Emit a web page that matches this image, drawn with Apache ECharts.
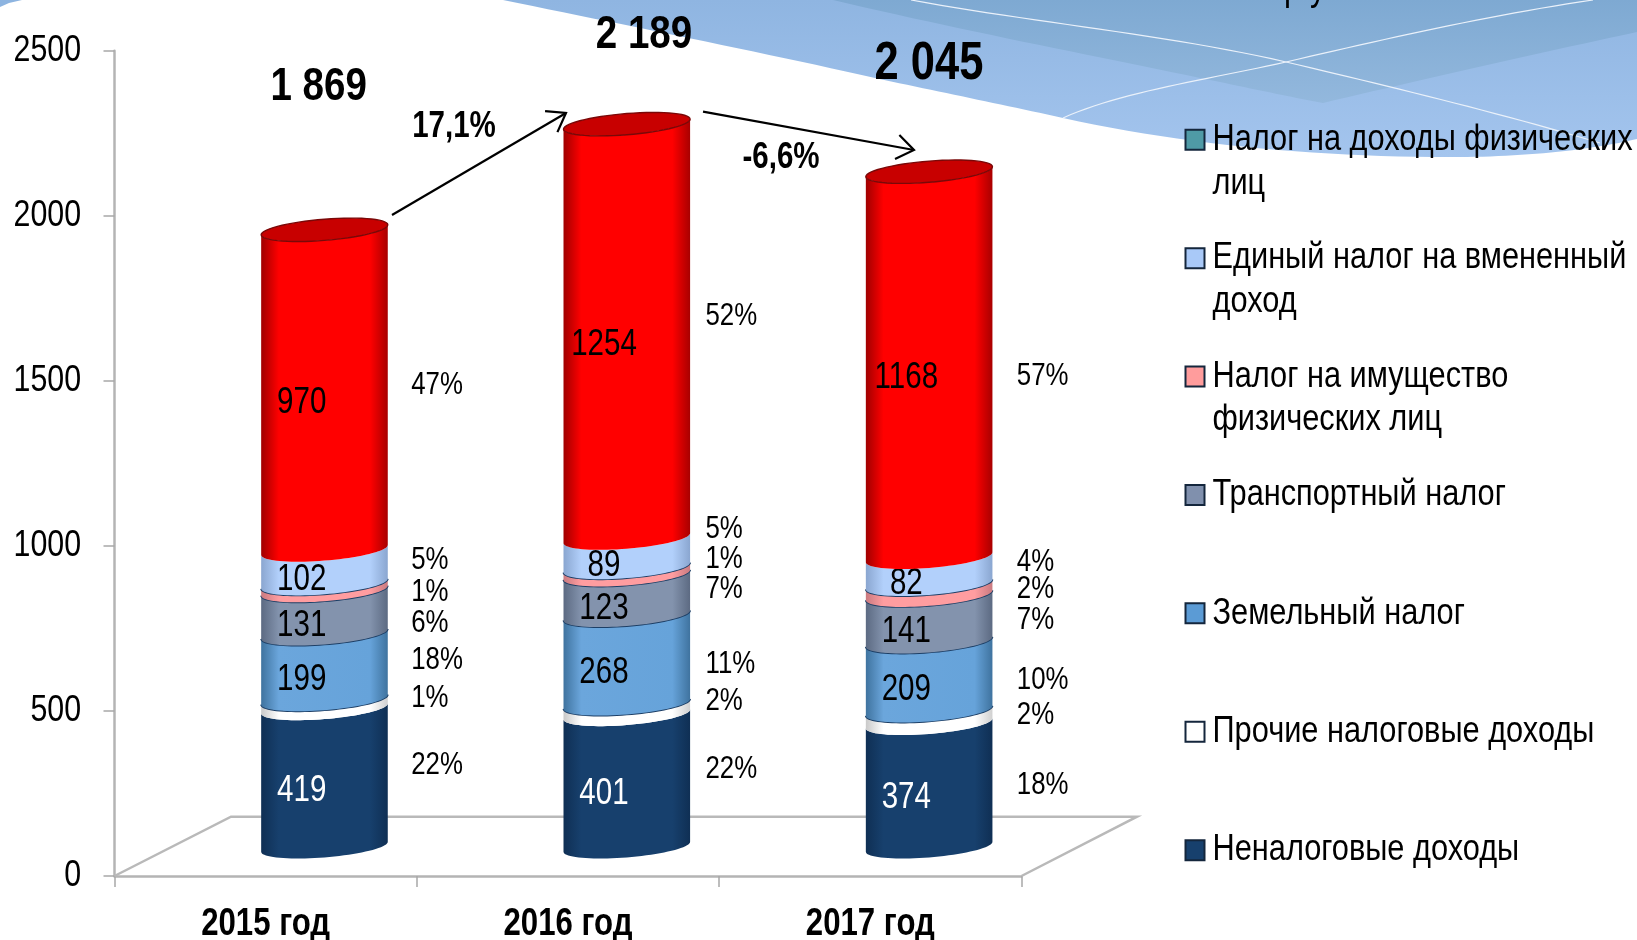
<!DOCTYPE html>
<html><head><meta charset="utf-8">
<style>html,body{margin:0;padding:0;background:#fff}#c{width:1637px;height:940px}</style>
<script src="https://cdn.jsdelivr.net/npm/echarts@6/dist/echarts.min.js"></script>
</head><body><div id="c"></div>
<script>
const categories = ['2015 год','2016 год','2017 год'];
const seriesNames = ['Неналоговые доходы','Прочие налоговые доходы','Земельный налог','Транспортный налог','Налог на имущество физических лиц','Единый налог на вмененный доход','Налог на доходы физических лиц'];
const nonTax    = [419,401,374];
const otherTax  = [27,32,38];
const landTax   = [199,268,209];
const transport = [131,123,141];
const property  = [21,22,33];
const utii      = [102,89,82];
const pit       = [970,1254,1168];
const pctNonTax = [22,22,18];
const pctOther  = [1,2,2];
const pctLand   = [18,11,10];
const pctTrans  = [6,7,7];
const pctProp   = [1,1,2];
const pctUtii   = [5,5,4];
const pctPit    = [47,52,57];
const totals = ['1 869','2 189','2 045'];
const changes = ['17,1%','-6,6%'];

const values = [nonTax,otherTax,landTax,transport,property,utii,pit];
const pcts = [pctNonTax,pctOther,pctLand,pctTrans,pctProp,pctUtii,pctPit];
const showValue = [true,false,true,true,false,true,true];

// No narrow face is installed: draw Liberation Sans condensed to Arial Narrow proportions.
const NARROW = 0.82;
const baseFillText = CanvasRenderingContext2D.prototype.fillText;
CanvasRenderingContext2D.prototype.fillText = function(t,x,y){
  this.save(); this.translate(x,y); this.scale(NARROW,1);
  baseFillText.call(this,t,0,0);
  this.restore();
};

// styling / layout
const FONT = '"Liberation Sans",sans-serif';
const legendColors = ['#17406d','#ffffff','#5b9bd5','#8090ad','#ff9c9c','#a9c9f8','#4f9aa6'];
const shades = [
  ['#0f2f54','#17406d','#17406d','#0f2f54'],
  ['#c9c9c9','#ffffff','#ffffff','#d0d0d0'],
  ['#3f739f','#6ba6dc','#66a3da','#3f739f'],
  ['#5c6a82','#8393ad','#8393ad','#5c6a82'],
  ['#c97a80','#ff9da0','#ff9da0','#c97a80'],
  ['#8aa6d0','#b2d0fb','#b2d0fb','#8aa6d0'],
  ['#a00000','#ff0000','#ff0000','#a80000']
];
const edgeOnTop = [false,true,true,true,true,false,false];
const DEPTH_X = 58.8, DEPTH_Y = 29.2, RX = 63.3, RY = 10.6, TILT = 5;
const pctNudge = [
  [-12,-11,0],[-6,-8,-2],[-6,5,4],[11,-6,2],[5,-12,0],[-7,-24,-9],[-4.5,-15,12]
];
const pctX = [86.7,78.7,87.7];
const totalPos = [[318.6,87.5],[644,35],[929,64]];
const totalSize = [47,47,53];

function arc(cx,cy,from,to,n){
  const pts=[];
  for(let i=0;i<=n;i++){
    const t=from+(to-from)*i/n;
    pts.push([cx+RX*Math.cos(t), cy+RY*Math.sin(t)-TILT*Math.cos(t)]);
  }
  return pts;
}
function makeRender(si){
  return function(params,api){
    const cat=api.value(0), lo=api.value(1), hi=api.value(2);
    const pLo=api.coord([cat,lo]), pHi=api.coord([cat,hi]);
    const cx=pLo[0]+DEPTH_X, yLo=pLo[1]-DEPTH_Y, yHi=pHi[1]-DEPTH_Y;
    const front=(y)=>arc(cx,y,Math.PI,0,40);
    const body=front(yHi).concat(front(yLo).reverse());
    const s=shades[si];
    const children=[{
      type:'polygon',shape:{points:body},
      style:{fill:new echarts.graphic.LinearGradient(0,0,1,0,[
        {offset:0,color:s[0]},{offset:.14,color:s[1]},{offset:.86,color:s[2]},{offset:1,color:s[3]}])}
    }];
    if(edgeOnTop[si]) children.push({type:'polyline',shape:{points:front(yHi)},style:{stroke:'#1d3f66',lineWidth:1.8,fill:'none'}});
    if(si===values.length-1){
      children.push({type:'polygon',shape:{points:arc(cx,yHi,0,Math.PI*2,60)},
        style:{fill:'#c80000',stroke:'#7a0808',lineWidth:1.4}});
    }
    const yMid=(yHi+yLo)/2;
    if(showValue[si]){
      children.push({type:'text',style:{text:String(values[si][cat]),x:cx-22.8,y:yMid+13.5,align:'center',verticalAlign:'middle',
        font:'36px '+FONT,fill:si===0?'#fff':'#000'}});
    }
    children.push({type:'text',style:{text:pcts[si][cat]+'%',x:cx+pctX[cat],y:yMid+pctNudge[si][cat],align:'left',verticalAlign:'middle',
      font:'31.5px '+FONT,fill:'#000'}});
    return {type:'group',children};
  };
}
const chartSeries = seriesNames.map((name,si)=>({
  name,type:'custom',coordinateSystem:'cartesian2d',
  itemStyle:{color:legendColors[si]},
  encode:{x:0,y:[1,2]},
  clip:false,silent:true,animation:false,
  renderItem:makeRender(si),
  z:3,
  data:categories.map((c,i)=>{
    let lo=0; for(let k=0;k<si;k++) lo+=values[k][i];
    return [i,lo,lo+values[si][i]];
  })
}));

const wrapped = {
  'Налог на доходы физических лиц':'Налог на доходы физических\nлиц',
  'Единый налог на вмененный доход':'Единый налог на вмененный\nдоход',
  'Налог на имущество физических лиц':'Налог на имущество\nфизических лиц'
};

function arrow(x1,y1,x2,y2){
  const a=Math.atan2(y2-y1,x2-x1), L=21, w=0.62;
  const h1=[x2-L*Math.cos(a-w),y2-L*Math.sin(a-w)], h2=[x2-L*Math.cos(a+w),y2-L*Math.sin(a+w)];
  return [
    {type:'line',z:5,shape:{x1,y1,x2,y2},style:{stroke:'#000',lineWidth:2.2}},
    {type:'polyline',z:5,shape:{points:[h1,[x2,y2],h2]},style:{stroke:'#000',lineWidth:2.2,fill:'none'}}
  ];
}
// decorative background curve sampling: start point, then cubic segments [c1x,c1y,c2x,c2y,x,y]
function curve(start,segs){
  const pts=[start]; let p=start;
  segs.forEach(s=>{
    for(let i=1;i<=24;i++){
      const t=i/24,u=1-t;
      pts.push([u*u*u*p[0]+3*u*u*t*s[0]+3*u*t*t*s[2]+t*t*t*s[4], u*u*u*p[1]+3*u*u*t*s[1]+3*u*t*t*s[3]+t*t*t*s[5]]);
    }
    p=[s[4],s[5]];
  });
  return pts;
}
const vgrad=(a,b)=>new echarts.graphic.LinearGradient(0,0,0,1,[{offset:0,color:a},{offset:1,color:b}]);
const swooshEdge=curve([503,0],[[620,24,760,52,875,78],[940,92,1000,104,1063,118],[1190,146,1330,158,1467,157],[1530,156,1590,150,1637,139]]);
const graphics=[
  {type:'polygon',z:-10,shape:{points:[[0,0],[22,0],[9,3],[0,7]]},style:{fill:'#8db4e0'}},
  {type:'polygon',z:-10,shape:{points:swooshEdge.concat([[1637,0]])},style:{fill:vgrad('#8fb5e1','#a4c5ee')}},
  {type:'polygon',z:-9,shape:{points:curve([833,0],[[960,30,1090,55,1200,78],[1240,86,1280,95,1323,103],[1420,80,1530,55,1637,32]]).concat([[1637,0]])},style:{fill:vgrad('#7ea9d2','#93b8dd')}},
  {type:'polyline',z:-8,shape:{points:curve([911,0],[[1030,22,1170,35,1286,62],[1380,84,1500,113,1600,143]])},style:{stroke:'#eaf1fa',lineWidth:1.2,fill:'none'}},
  {type:'polyline',z:-8,shape:{points:curve([1063,118],[[1120,92,1210,79,1286,62],[1380,40,1490,15,1593,0]])},style:{stroke:'#eaf1fa',lineWidth:1.2,fill:'none'}},
  {type:'text',z:-7,style:{text:'р у',x:1284,y:-10,align:'left',verticalAlign:'middle',font:'38px '+FONT,fill:'#000'}},
  ...arrow(392,215,566,113),
  ...arrow(703,111.7,914,150),
  {type:'polyline',z:1,shape:{points:[[114.5,876],[231,816.7],[1137,816.7],[1021.5,876]]},style:{stroke:'#b9b9b9',lineWidth:2.5,fill:'none'}},
  {type:'text',z:6,style:{text:changes[0],x:454,y:127,align:'center',verticalAlign:'middle',font:'bold 36px '+FONT,fill:'#000'}},
  {type:'text',z:6,style:{text:changes[1],x:781,y:158,align:'center',verticalAlign:'middle',font:'bold 36px '+FONT,fill:'#000'}},
  ...totals.map((t,i)=>({type:'text',z:6,style:{text:t,x:totalPos[i][0],y:totalPos[i][1],align:'center',verticalAlign:'middle',font:'bold '+totalSize[i]+'px '+FONT,fill:'#000'}}))
];

const chart=echarts.init(document.getElementById('c'),null,{renderer:'canvas'});
chart.setOption({
  animation:false,
  backgroundColor:'#fff',
  grid:{left:114.5,right:1637-1021.5,top:50.7,bottom:940-876,containLabel:false,outerBoundsMode:'none'},
  xAxis:{type:'category',data:categories,
    axisLine:{show:true,lineStyle:{color:'#b4b4b4',width:2.5}},
    axisTick:{show:true,length:11,alignWithLabel:false,lineStyle:{color:'#a8a8a8',width:1.5}},
    axisLabel:{color:'#000',fontFamily:FONT,fontWeight:'bold',fontSize:38,margin:29.5}},
  yAxis:{type:'value',min:0,max:2500,interval:500,
    splitLine:{show:false},
    axisLine:{show:true,lineStyle:{color:'#b4b4b4',width:2.5}},
    axisTick:{show:true,length:11,lineStyle:{color:'#a8a8a8',width:1.5}},
    axisLabel:{color:'#000',fontFamily:FONT,fontSize:37,margin:33.5,padding:[0,0,10,0],formatter:(v)=>String(v)}},
  legend:{orient:'vertical',left:1184.5,top:74.5,padding:0,itemWidth:19,itemHeight:20,itemGap:118.4-3*43.5,
    selectedMode:false,
    data:seriesNames.slice().reverse().map(n=>({name:n,icon:'rect',itemStyle:{borderColor:'#14263c',borderWidth:2}})),
    formatter:(n)=>'\n'+(wrapped[n]||(n+'\n ')),
    textStyle:{color:'#000',fontFamily:FONT,fontSize:37.5,lineHeight:43.5,padding:[0,0,0,3]}},
  graphic:graphics,
  series:chartSeries
});
</script></body></html>
